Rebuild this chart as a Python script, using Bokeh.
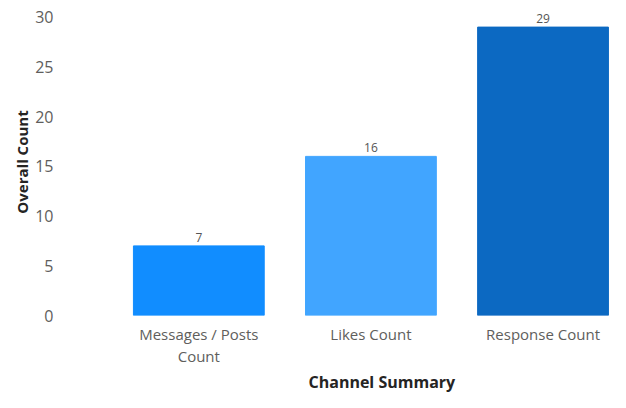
from bokeh.plotting import figure
from bokeh.models import ColumnDataSource, FixedTicker, Range1d, Title
from bokeh.core.properties import value
from bokeh.embed import file_html
from bokeh.resources import INLINE

categories = ["Messages / Posts\nCount", "Likes Count", "Response Count"]
counts = [7, 16, 29]
bar_colors = ["#118DFF", "#41A5FF", "#0C69C2"]
y_ticks = [0, 5, 10, 15, 20, 25, 30]

xs = list(range(len(categories)))
source = ColumnDataSource(dict(x=xs, top=counts, color=bar_colors,
                               label=[str(c) for c in counts]))

p = figure(width=610, height=392, output_backend="svg", toolbar_location=None,
           x_range=Range1d(-0.734, 2.392), y_range=Range1d(0, 30.87),
           min_border_left=72, min_border_right=0, min_border_top=8, min_border_bottom=0)
p.outline_line_color = None
p.background_fill_color = "white"
p.border_fill_color = "white"
p.xgrid.grid_line_color = None
p.ygrid.grid_line_color = None

p.vbar(x="x", top="top", bottom=0, width=0.76, color="color", source=source)
p.text(x="x", y="top", text="label", source=source, text_align="center",
       text_baseline="bottom", y_offset=-4, text_font_size="12px",
       text_color="#555555", text_font=value("Open Sans"))

p.xaxis.ticker = FixedTicker(ticks=xs)
p.xaxis.major_label_overrides = {i: c for i, c in zip(xs, categories)}
p.yaxis.ticker = FixedTicker(ticks=y_ticks)

for ax in (p.xaxis[0], p.yaxis[0]):
    ax.axis_line_color = None
    ax.major_tick_line_color = None
    ax.minor_tick_line_color = None
    ax.major_label_text_font = "Open Sans"
    ax.major_label_text_color = "#605E5C"

p.xaxis.major_label_text_font_size = "15px"
p.xaxis.major_label_standoff = 2
p.xaxis.major_label_text_line_height = 1.12
p.yaxis.major_label_text_font_size = "16px"
p.yaxis.major_label_standoff = 13

p.yaxis.axis_label = "Overall Count"
p.yaxis.axis_label_text_font = "Open Sans"
p.yaxis.axis_label_text_font_style = "bold"
p.yaxis.axis_label_text_font_size = "15px"
p.yaxis.axis_label_text_color = "#252423"
p.yaxis.axis_label_standoff = 0

t = Title(text="Channel Summary", align="left", offset=236, standoff=0,
          text_font="Open Sans", text_font_style="bold", text_line_height=1.0,
          text_font_size="16px", text_color="#252423")
p.add_layout(t, "below")

open("out.html", "w").write(file_html(p, INLINE))
